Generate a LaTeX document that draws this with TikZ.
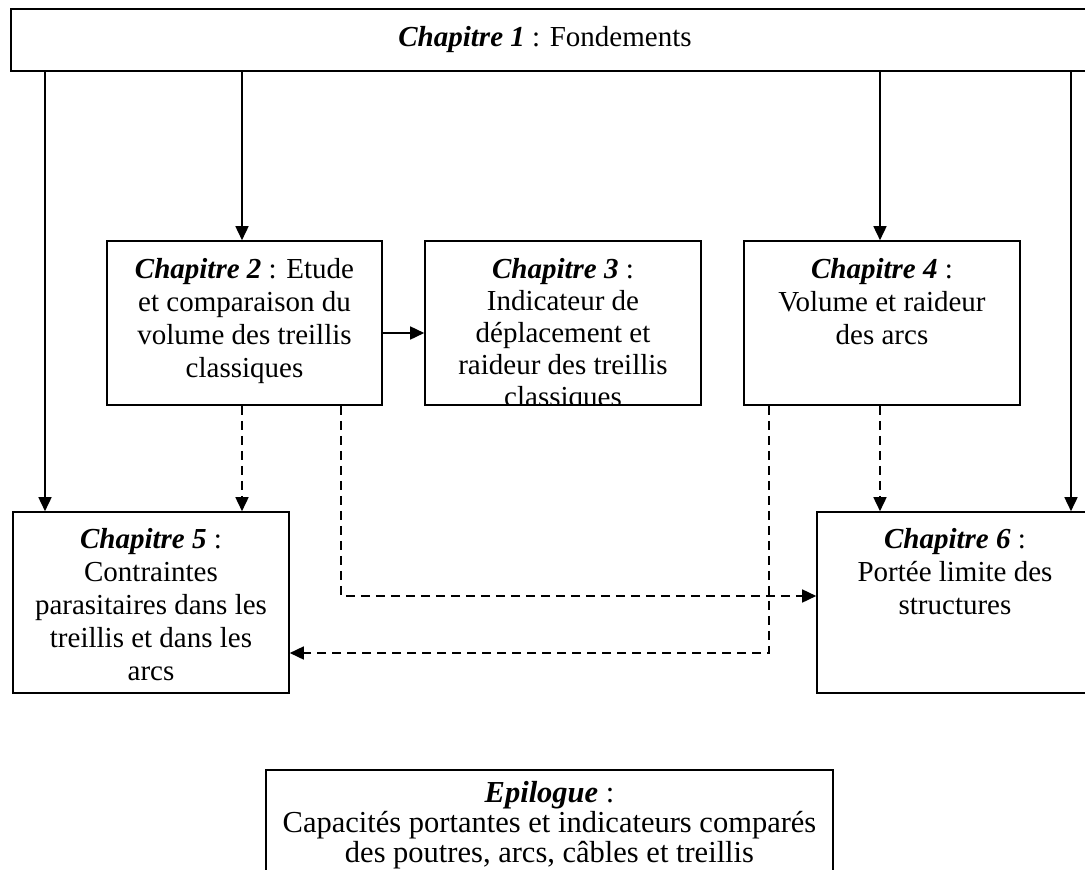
\documentclass[tikz,border=0pt]{standalone}
\usepackage{fontspec}
\setmainfont{Liberation Serif}
\usetikzlibrary{arrows.meta,calc}
\begin{document}
\begin{tikzpicture}[x=1pt,y=-1pt,
  box/.style={draw,line width=1.6pt,rectangle,inner sep=0pt},
  txt/.style={anchor=north,inner sep=0pt,align=center,font=\fontsize{29}{33}\selectfont},
  arr/.style={line width=1.6pt,-{Triangle[length=14pt,width=13pt]}},
  darr/.style={arr,dash pattern=on 9pt off 6pt}]
\path[use as bounding box, clip] (0,0) rectangle (1085,870);
% boxes
\node[box,minimum width=1090pt,minimum height=62pt] (c1) at (556,40) {};
\node[box,minimum width=275pt,minimum height=164pt] (c2) at (244.5,323) {};
\node[box,minimum width=276pt,minimum height=164pt] (c3) at (563,323) {};
\node[box,minimum width=276pt,minimum height=164pt] (c4) at (882,323) {};
\node[box,minimum width=276pt,minimum height=181pt] (c5) at (151,602.5) {};
\node[box,minimum width=276pt,minimum height=181pt] (c6) at (955,602.5) {};
\node[box,minimum width=567pt,minimum height=130pt] (ep) at (549.5,835) {};
% texts
\node[txt,anchor=center] (t1) at (545,40) {\textbf{\textit{Chapitre 1}} : Fondements};
\node[txt] (t2) at ($(c2.north)+(0,18)$) {\textbf{\textit{Chapitre 2}} : Etude\\et comparaison du\\volume des treillis\\classiques};
\begin{scope}
\clip (c3.north west) rectangle (c3.south east);
\node[txt,font=\fontsize{29}{32}\selectfont] (t3) at ($(c3.north)+(0,18)$) {\textbf{\textit{Chapitre 3}} :\\Indicateur de\\déplacement et\\raideur des treillis\\classiques};
\end{scope}
\node[txt] (t4) at ($(c4.north)+(0,18)$) {\textbf{\textit{Chapitre 4}} :\\Volume et raideur\\des arcs};
\node[txt] (t5) at ($(c5.north)+(0,17)$) {\textbf{\textit{Chapitre 5}} :\\Contraintes\\parasitaires dans les\\treillis et dans les\\arcs};
\node[txt] (t6) at ($(c6.north)+(0,17)$) {\textbf{\textit{Chapitre 6}} :\\Portée limite des\\structures};
\node[txt,font=\fontsize{30.5}{30}\selectfont] (te) at ($(ep.north)+(0,12)$) {\textbf{\textit{Epilogue}} :\\Capacités portantes et indicateurs comparés\\des poutres, arcs, câbles et treillis};
% helper coordinates
\coordinate (xa) at (45,0);
\coordinate (xb) at (242,0);
\coordinate (xc) at (880,0);
\coordinate (xd) at (1071,0);
\coordinate (ya) at (0,333);
\coordinate (b1) at (341,596);
\coordinate (b2) at (769,653);
% solid arrows
\draw[arr] (c1.south -| xa) -- (c5.north -| xa);
\draw[arr] (c1.south -| xb) -- (c2.north -| xb);
\draw[arr] (c1.south -| xc) -- (c4.north -| xc);
\draw[arr] (c1.south -| xd) -- (c6.north -| xd);
\draw[arr] (c2.east |- ya) -- (c3.west |- ya);
% dashed arrows
\draw[darr] (c2.south -| xb) -- (c5.north -| xb);
\draw[darr] (c4.south -| xc) -- (c6.north -| xc);
\draw[darr] (c2.south -| b1) -- (b1) -- (b1 -| c6.west);
\draw[darr] (c4.south -| b2) -- (b2) -- (b2 -| c5.east);
\end{tikzpicture}
\end{document}
